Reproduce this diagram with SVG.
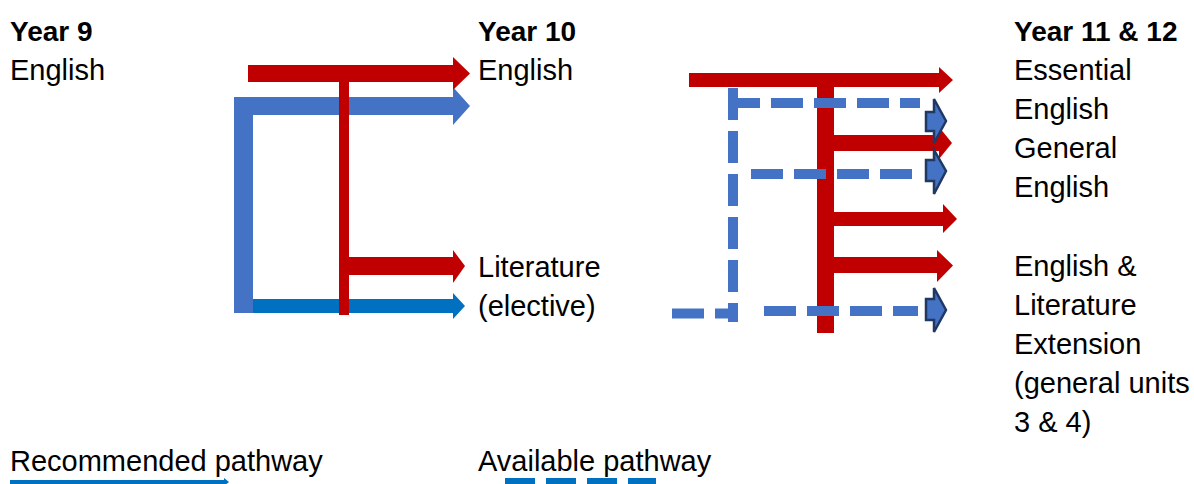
<svg xmlns="http://www.w3.org/2000/svg" width="1194" height="484" viewBox="0 0 1194 484">
<style>
  text { font-family: "Liberation Sans", Arial, sans-serif; font-size: 29px; fill: #000; }
  .h { font-weight: bold; font-size: 28px; }
  .red { fill: #C00000; }
  .blue { fill: #4472C4; }
  .dblue { fill: #0070C0; }
  .dash { fill: none; stroke: #4472C4; stroke-width: 10; stroke-dasharray: 32 11; }
  .head { fill: #4472C4; stroke: #203864; stroke-width: 2.5; stroke-linejoin: miter; }
</style>
<rect width="1194" height="484" fill="#fff"/>

<g id="labels-year9">
  <text class="h" x="10" y="41">Year 9</text>
  <text x="10" y="80">English</text>
</g>
<g id="labels-year10">
  <text class="h" x="478" y="41">Year 10</text>
  <text x="478" y="80">English</text>
  <text x="478" y="277">Literature</text>
  <text x="478" y="316">(elective)</text>
</g>
<g id="labels-year11">
  <text class="h" x="1014" y="41">Year 11 &amp; 12</text>
  <text x="1014" y="80">Essential</text>
  <text x="1014" y="119">English</text>
  <text x="1014" y="158">General</text>
  <text x="1014" y="197">English</text>
  <text x="1014" y="276">English &amp;</text>
  <text x="1014" y="315">Literature</text>
  <text x="1014" y="354">Extension</text>
  <text x="1014" y="393">(general units</text>
  <text x="1014" y="432">3 &amp; 4)</text>
</g>

<g id="connectors">
  <!-- Year 9 to Year 10 -->
  <g id="y9-y10">
    <rect class="blue" x="234" y="97" width="19" height="216"/>
    <polygon class="blue" points="234,97 453,97 453,87 470,106 453,125 453,115 234,115"/>
    <polygon class="dblue" points="253,299 453,299 453,293 465,306 453,319 453,313 253,313"/>
    <polygon class="red" points="248,65 453,65 453,57 470,73.5 453,90 453,82 248,82"/>
    <rect class="red" x="339" y="82" width="10" height="233"/>
    <polygon class="red" points="349,257 453,257 453,250 465,266 453,283 453,275 349,275"/>
  </g>
  <!-- Year 10 to Year 11 & 12 -->
  <g id="y10-y11">
    <polygon class="red" points="689,73 939,73 939,67 953,80 939,93 939,87 689,87"/>
    <rect class="red" x="817" y="87" width="17" height="246"/>
    <polygon class="red" points="834,135 939,135 939,127 952,143 939,159 939,151 834,151"/>
    <polygon class="red" points="834,212 943,212 943,204 957,219 943,233 943,226 834,226"/>
    <polygon class="red" points="817,257 937,257 937,250 953,265.5 937,282 937,273 817,273"/>

    <path class="dash" d="M733,88 V322"/>
    <path class="dash" d="M728,103 H920"/>
    <path class="dash" d="M751,174 H912"/>
    <path class="dash" d="M672,313.5 H738"/>
    <path class="dash" d="M764,311 H918"/>

    <polygon class="head" points="926,112 934,112 934,99 946,121 934,143 934,131 926,131"/>
    <polygon class="head" points="926,160 934,160 934,150 946,171 934,194 934,181 926,181"/>
    <polygon class="head" points="926,299 934,299 934,288 946,310 934,332 934,320 926,320"/>
  </g>
</g>

<g id="legend">
  <text x="10" y="471">Recommended pathway</text>
  <polygon class="dblue" points="10,480 224,480 224,478 229,482 224,486 224,484 10,484"/>
  <text x="478" y="471">Available pathway</text>
  <path d="M505,481 H656" fill="none" stroke="#0070C0" stroke-width="6" stroke-dasharray="30 11"/>
</g>
</svg>
